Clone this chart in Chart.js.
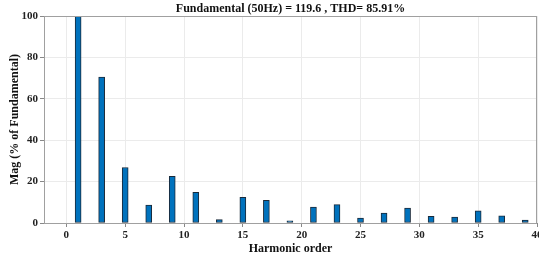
<!DOCTYPE html>
<html><head><meta charset="utf-8">
<script src="https://cdn.jsdelivr.net/npm/chart.js@4/dist/chart.umd.min.js"></script>
<style>html,body{margin:0;padding:0;background:#fff}#c{display:block}</style>
</head><body>
<div style="width:539px;height:256px"><canvas id="c" width="539" height="256"></canvas></div>
<script>
const harmonics = [0,1,2,3,4,5,6,7,8,9,10,11,12,13,14,15,16,17,18,19,20,21,22,23,24,25,26,27,28,29,30,31,32,33,34,35,36,37,38,39];
const magnitudes = [0,100,0,70.5,0,26.8,0,8.7,0,22.5,0,14.8,0,1.6,0,12.4,0,11,0,1,0,7.7,0,8.9,0,2.4,0,4.8,0,7.2,0,3.2,0,2.9,0,5.9,0,3.5,0,1.4];
const yTicks = [0,20,40,60,80,100];
const xTicks = [0,5,10,15,20,25,30,35,40];
const titleText = 'Fundamental (50Hz) = 119.6 , THD= 85.91%';

const FONT = 'Liberation Serif';
const boxPlugin = {
  id: 'box',
  afterDraw(chart) {
    const a = chart.chartArea, ctx = chart.ctx;
    ctx.save();
    ctx.strokeStyle = '#a0a0a0';
    ctx.lineWidth = 1;
    ctx.strokeRect(a.left + 0.5, a.top + 0.5, a.right - a.left - 1, a.bottom - a.top);
    ctx.restore();
  }
};
new Chart(document.getElementById('c'), {
  type: 'bar',
  data: {
    datasets: [{
      data: harmonics.map((h, i) => ({x: h, y: magnitudes[i]})),
      backgroundColor: '#0072BD',
      borderColor: '#1a2a3a',
      borderWidth: 1,
      borderSkipped: false,
      barThickness: 6
    }]
  },
  options: {
    responsive: false,
    animation: false,
    layout: {padding: {left: 0, right: 2, top: 0, bottom: 0}},
    plugins: {
      legend: {display: false},
      tooltip: {enabled: false},
      title: {
        display: true, text: titleText, color: '#111', fullSize: false,
        font: {family: FONT, size: 12, weight: 'bold', lineHeight: 1},
        padding: {top: 3, bottom: 1}
      }
    },
    scales: {
      x: {
        type: 'linear', min: -1.9, max: 40, offset: false,
        afterBuildTicks(s) { s.ticks = xTicks.map(v => ({value: v})); },
        afterFit(s) { s.height = 33; s.paddingLeft = 0; s.paddingRight = 0; },
        ticks: {color: '#222', font: {family: FONT, size: 11, weight: 'bold'}, padding: 2, maxRotation: 0, autoSkip: false},
        grid: {color: '#ebebeb', tickLength: 4, tickColor: '#888', drawTicks: true, offset: false},
        border: {color: '#888'},
        title: {display: true, text: 'Harmonic order', color: '#111', font: {family: FONT, size: 12, weight: 'bold'}, padding: {top: 0, bottom: 0}}
      },
      y: {
        min: 0, max: 100,
        afterBuildTicks(s) { s.ticks = yTicks.map(v => ({value: v})); },
        afterFit(s) { s.width = 44; },
        ticks: {color: '#222', font: {family: FONT, size: 11, weight: 'bold'}, padding: 2},
        grid: {color: '#ebebeb', tickLength: 4, tickColor: '#888'},
        border: {color: '#888'},
        title: {display: true, text: 'Mag (% of Fundamental)', color: '#111', font: {family: FONT, size: 12, weight: 'bold'}, padding: {top: 8, bottom: 0}}
      }
    }
  },
  plugins: [boxPlugin]
});
</script>
</body></html>
